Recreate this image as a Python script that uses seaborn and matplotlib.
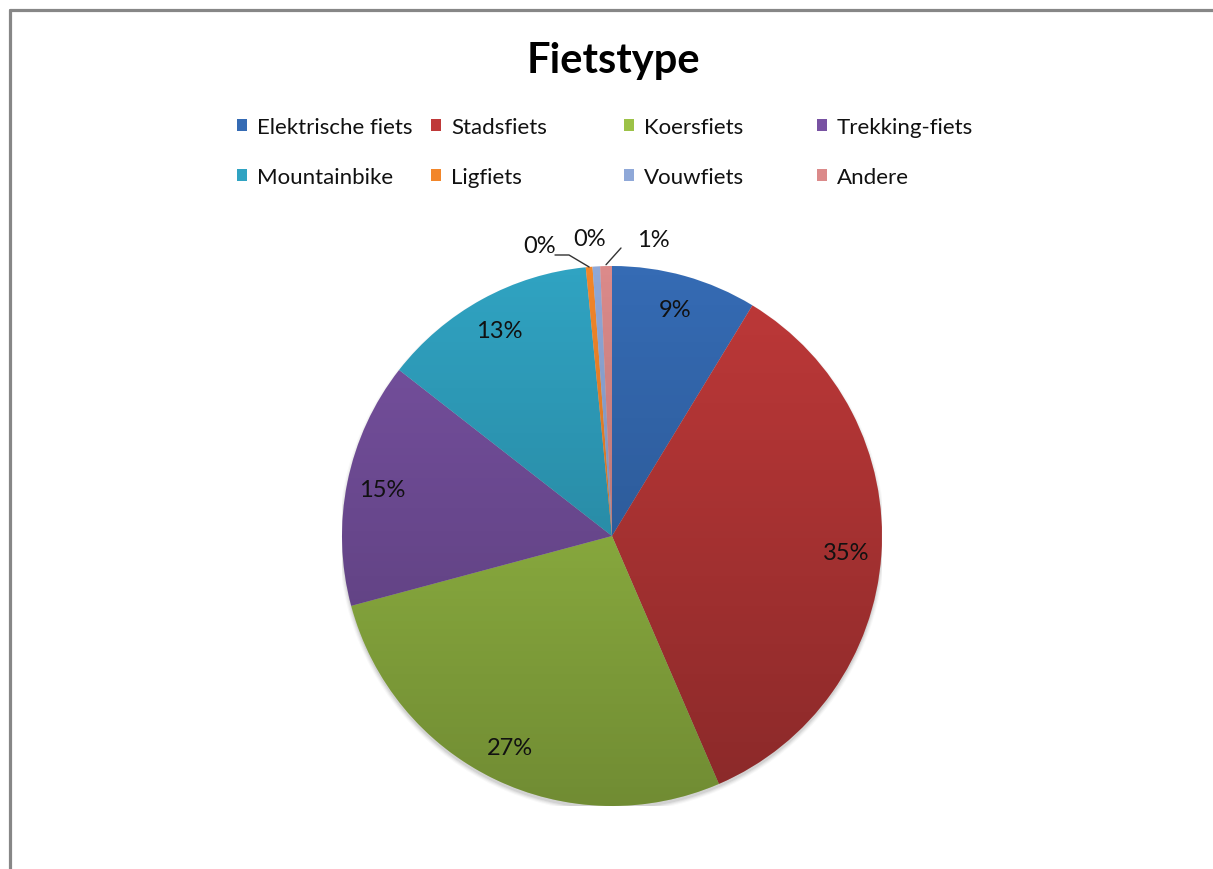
import numpy as np
import matplotlib
matplotlib.use("Agg")
import matplotlib.pyplot as plt
import seaborn as sns
from matplotlib.patches import Circle
from matplotlib.lines import Line2D

# Bicycle types and their share (%)
categories = ["Elektrische fiets", "Stadsfiets", "Koersfiets", "Trekking-fiets",
              "Mountainbike", "Ligfiets", "Vouwfiets", "Andere"]
shares = [8.7, 34.8, 27.3, 14.7, 12.9, 0.4, 0.45, 0.7]
colors = ["#356BB4", "#BF3939", "#9CC247", "#7852A2",
          "#30A3C2", "#F2862A", "#8FA8D8", "#DB8A8A"]
title = "Fietstype"

sns.set_theme(style="white")
plt.rcParams["font.family"] = ["Lato", "DejaVu Sans"]

W, H = 1213, 870
fig = plt.figure(figsize=(W / 100, H / 100), dpi=100)
fig.patch.set_facecolor("white")

# outer chart border (top and left edges visible)
fig.add_artist(Line2D([9.5 / W, 1.0], [1 - 11 / H, 1 - 11 / H],
                      transform=fig.transFigure, color="#878787", lw=2.3))
fig.add_artist(Line2D([9.5 / W, 9.5 / W], [0.0, 1 - 11 / H],
                      transform=fig.transFigure, color="#878787", lw=2.3))

cx, cy, r = 612, 537, 270
ax = fig.add_axes([(cx - r) / W, (H - cy - r) / H, 2 * r / W, 2 * r / H])

# soft drop shadow under the pie
for k, a in enumerate([0.10, 0.08, 0.06, 0.04]):
    ax.add_patch(Circle((0, -0.012), 1.0 + 0.004 * k, color="#555555",
                        alpha=a, lw=0, zorder=0))

wedges, texts, autotexts = ax.pie(
    shares, colors=colors, startangle=90, counterclock=False, radius=1.0,
    autopct="%.0f%%", pctdistance=0.87,
    wedgeprops=dict(linewidth=0, edgecolor="none"),
    textprops=dict(fontsize=17, color="#111111"))
for w in wedges:
    w.set_zorder(1)

# vertical shading: lighter at the top, darker at the bottom
grad = np.zeros((256, 1, 4))
grad[:, 0, 3] = np.linspace(0.0, 0.28, 256)
img = ax.imshow(grad, extent=(-1, 1, -1, 1), origin="upper", aspect="auto",
                interpolation="bilinear", zorder=2)
img.set_clip_path(Circle((0, 0), 1.0, transform=ax.transData))

for t in autotexts:
    t.set_zorder(4)

def px(x, y):
    return ((x - cx) / r, (cy - y) / r)

def wedge_edge_point(w, rad=1.0):
    th = np.deg2rad((w.theta1 + w.theta2) / 2)
    return rad * np.cos(th), rad * np.sin(th)

# small slices: labels placed outside, with leader lines
autotexts[5].set_position(px(540, 247))
autotexts[6].set_position(px(590, 240))
autotexts[7].set_position(px(653, 241))

p0 = px(555, 256)
p1 = px(569, 256)
p2 = wedge_edge_point(wedges[5], 1.0)
ax.plot([p0[0], p1[0], p2[0]], [p0[1], p1[1], p2[1]], color="#333333",
        lw=1.0, zorder=3, clip_on=False)
q0 = px(621, 249)
q1 = wedge_edge_point(wedges[7], 1.005)
ax.plot([q0[0], q1[0]], [q0[1], q1[1]], color="#333333", lw=1.0,
        zorder=3, clip_on=False)

ax.set_xlim(-1, 1)
ax.set_ylim(-1, 1)
ax.set_axis_off()

# title
fig.text(613 / W, 1 - 61 / H, title, ha="center", va="center",
         fontsize=30, fontweight="bold", color="black")

# legend: four fixed-width columns, two rows
col_x = [237, 431, 624, 817]
for c in range(4):
    idx = [c, c + 4]
    leg = fig.legend([wedges[i] for i in idx], [categories[i] for i in idx],
                     loc="center left", bbox_to_anchor=(col_x[c] / W, 1 - 153 / H),
                     frameon=False, borderpad=0, borderaxespad=0,
                     handlelength=0.45, handleheight=0.45, handletextpad=0.45,
                     labelspacing=1.32, fontsize=16)
    for t in leg.get_texts():
        t.set_color("#111111")

fig.savefig("out.png", dpi=100, facecolor="white")
